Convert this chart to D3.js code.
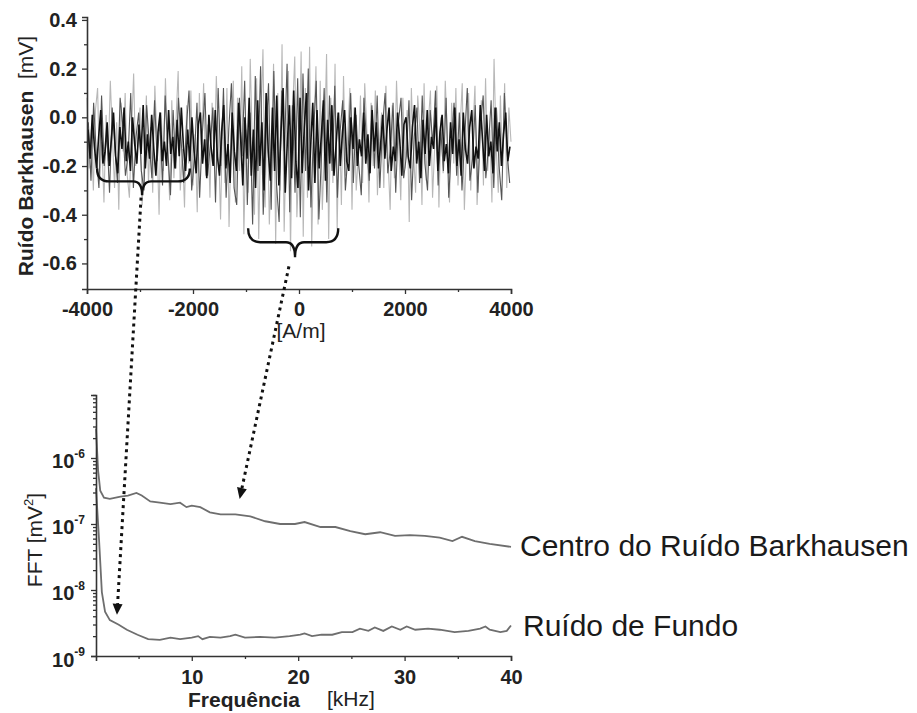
<!DOCTYPE html>
<html>
<head>
<meta charset="utf-8">
<script src="https://cdn.jsdelivr.net/npm/d3@7"></script>
<style>
  body { margin: 0; background: #fff; }
  svg { display: block; font-family: "Liberation Sans", Arial, sans-serif; }
</style>
</head>
<body>
<svg id="chart" width="917" height="713"></svg>
<script>
// --- top panel: Barkhausen noise vs field (A/m) ---
// light outer trace, every 40 A/m from -4000
const lightStart = -4000, lightStep = 40;
const lightTrace = [
  0.08,-0.21,-0.05,-0.30,0.03,0.12,-0.26,-0.10,-0.35,0.01,
  -0.18,0.15,-0.08,-0.29,-0.02,-0.38,0.06,-0.14,0.10,-0.24,
  -0.33,-0.06,0.18,-0.20,-0.11,0.04,-0.36,-0.15,0.09,-0.27,
  -0.04,-0.31,0.13,-0.09,-0.40,0.02,-0.22,0.16,-0.12,-0.34,
  0.07,-0.25,-0.01,0.19,-0.30,-0.13,-0.37,0.05,-0.19,0.11,
  -0.28,-0.07,-0.39,0.10,-0.16,0.14,-0.24,-0.03,-0.33,0.06,
  -0.20,0.17,-0.10,-0.42,0.02,-0.27,0.12,-0.45,-0.08,0.15,
  -0.35,0.08,-0.22,0.21,-0.48,-0.05,-0.31,0.24,-0.12,-0.40,
  0.16,-0.50,-0.02,0.28,-0.37,0.06,-0.44,-0.15,0.22,-0.52,
  0.10,-0.30,0.30,-0.47,-0.08,0.19,-0.55,0.03,0.25,-0.41,
  -0.18,0.27,-0.49,0.12,-0.33,0.29,-0.53,-0.06,0.21,-0.44,
  0.15,-0.38,-0.12,0.26,-0.50,0.08,-0.27,0.22,-0.46,0.02,
  -0.36,0.17,-0.24,-0.07,0.12,-0.38,0.04,-0.30,-0.15,0.09,
  -0.27,0.14,-0.05,-0.35,0.06,-0.20,0.11,-0.32,-0.09,0.02,
  -0.29,0.13,-0.17,-0.38,0.05,-0.25,0.15,-0.11,-0.34,0.08,
  -0.21,0.03,-0.43,0.12,-0.14,-0.31,0.09,-0.05,-0.36,0.14,
  -0.26,-0.02,0.11,-0.33,-0.12,0.13,-0.37,0.00,-0.23,0.15,
  -0.08,-0.35,0.06,-0.19,0.12,-0.28,-0.04,0.14,-0.38,-0.13,
  0.10,-0.30,-0.06,0.13,-0.36,-0.16,0.07,-0.28,0.16,-0.22,
  -0.05,-0.35,0.24,-0.12,-0.31,0.09,-0.20,0.14,-0.29,0.04,
  -0.10
];
// mid-grey trace, every 50 A/m from -3975
const midStart = -3975, midStep = 50;
const midTrace = [
  -0.02,-0.26,0.06,-0.15,-0.29,0.09,-0.20,-0.06,-0.31,0.04,
  -0.12,-0.27,0.08,-0.03,-0.24,-0.16,0.10,-0.29,-0.08,0.02,
  -0.22,-0.30,0.05,-0.11,-0.25,0.07,-0.18,-0.01,-0.28,0.09,
  -0.14,-0.32,0.03,-0.21,0.08,-0.09,-0.27,-0.04,0.11,-0.30,
  -0.17,0.06,-0.33,-0.07,0.10,-0.24,-0.12,0.04,-0.35,0.12,
  -0.20,0.12,-0.33,-0.05,0.14,-0.29,-0.36,0.08,-0.16,0.15,
  -0.36,0.02,-0.44,0.17,-0.22,0.21,-0.40,-0.09,0.14,-0.38,
  0.19,-0.27,-0.43,0.11,-0.14,0.22,-0.39,0.05,-0.31,0.16,
  -0.41,0.18,-0.22,0.20,-0.37,-0.06,0.15,-0.42,-0.15,0.12,
  -0.35,0.09,-0.22,0.13,-0.33,-0.06,0.07,-0.30,-0.15,0.10,
  -0.27,0.01,-0.19,-0.32,0.08,-0.10,-0.26,0.05,-0.21,0.09,
  -0.29,-0.04,0.10,-0.23,-0.13,0.06,-0.31,-0.02,0.08,-0.25,
  -0.16,0.07,-0.34,-0.08,0.04,-0.27,0.09,-0.19,-0.30,0.03,
  -0.11,0.11,-0.28,-0.05,-0.22,0.08,-0.33,-0.12,0.06,-0.24,
  0.02,-0.30,-0.09,0.12,-0.26,-0.17,0.05,-0.31,-0.03,0.09,
  -0.25,-0.12,0.07,-0.29,0.04,-0.20,-0.34,0.10,-0.14,-0.27
];
// dark core trace, every 40 A/m from -3980
const darkStart = -3980, darkStep = 40;
const darkTrace = [
  -0.05,-0.17,0.01,-0.12,-0.21,-0.08,0.03,-0.19,-0.14,-0.02,
  -0.20,-0.09,0.02,-0.16,-0.23,-0.04,-0.13,0.04,-0.18,-0.10,
  -0.22,0.00,-0.11,-0.19,-0.03,-0.15,0.05,-0.21,-0.07,-0.17,
  0.01,-0.13,-0.24,-0.06,0.02,-0.18,-0.10,-0.20,0.03,-0.15,
  -0.08,-0.21,-0.01,-0.16,0.04,-0.12,-0.22,-0.05,-0.18,0.00,
  -0.14,-0.23,-0.03,0.02,-0.19,-0.09,-0.25,0.01,-0.12,-0.20,
  0.03,-0.16,-0.24,-0.06,0.05,-0.21,-0.11,-0.27,0.02,-0.14,
  -0.22,0.06,-0.09,-0.28,0.00,-0.17,0.08,-0.24,-0.05,-0.29,
  0.07,-0.20,-0.02,-0.30,0.10,-0.14,-0.26,0.04,-0.22,0.09,
  -0.28,-0.06,0.12,-0.31,-0.10,0.05,-0.25,0.11,-0.18,-0.29,
  0.08,-0.23,-0.04,0.10,-0.30,-0.12,0.06,-0.27,0.03,-0.21,
  -0.08,0.07,-0.26,-0.01,-0.19,0.05,-0.24,-0.11,0.02,-0.20,
  -0.06,0.03,-0.18,-0.22,0.00,-0.13,0.04,-0.20,-0.09,-0.16,
  0.02,-0.19,-0.07,-0.23,0.03,-0.14,-0.02,-0.21,-0.11,0.01,
  -0.17,-0.05,0.04,-0.22,-0.12,-0.18,0.02,-0.09,-0.24,-0.03,
  0.00,-0.16,-0.21,-0.04,0.05,-0.19,-0.10,-0.25,-0.01,-0.15,
  0.03,-0.20,-0.08,-0.13,0.04,-0.22,-0.06,0.01,-0.18,-0.11,
  -0.23,-0.02,-0.15,0.04,-0.20,-0.09,-0.24,0.02,-0.13,-0.19,
  -0.04,0.03,-0.21,-0.12,-0.17,0.05,-0.08,-0.22,0.01,-0.16,
  -0.10,-0.23,0.04,-0.14,-0.02,-0.20,-0.07,0.02,-0.18,-0.12
];
const fieldTicks = [-4000, -2000, 0, 2000, 4000];
const fieldMinor = [-3000, -1000, 1000, 3000];
const noiseTicks = [-0.6, -0.4, -0.2, 0.0, 0.2, 0.4];
const noiseMinor = [-0.5, -0.3, -0.1, 0.1, 0.3];

// --- bottom panel: FFT spectra ---
const centroFreq = [1.0,1.2,1.4,1.75,2.3,3.3,4.0,4.8,5.3,6.1,7.0,8.0,8.9,9.5,10,10.8,11.7,12.7,14.1,15.5,16.9,18.3,19.7,20.6,22.1,23.5,24.9,26.3,27.7,29.1,30.5,31.9,33.3,34.5,35.4,36.6,38.0,40.0];
const centroFFT = [2.8e-6,6.4e-7,3.2e-7,2.5e-7,2.4e-7,2.6e-7,2.7e-7,2.95e-7,2.7e-7,2.2e-7,2.1e-7,2.0e-7,2.1e-7,1.8e-7,1.9e-7,1.8e-7,1.5e-7,1.4e-7,1.4e-7,1.3e-7,1.1e-7,1.0e-7,1.0e-7,1.07e-7,9e-8,9e-8,7.8e-8,7.0e-8,7.5e-8,6.6e-8,6.8e-8,6.6e-8,6.2e-8,5.5e-8,6.4e-8,5.5e-8,5.0e-8,4.5e-8];
const fundoFreq = [1.0,1.3,1.55,1.85,2.3,3.1,3.9,4.9,5.9,7.0,8.0,8.9,10,10.6,11.0,11.7,12.7,13.6,14.1,15.0,16.4,17.8,19.2,20.2,20.6,21.3,22.2,23.2,24.1,25.1,25.8,26.6,27.2,28.0,28.8,29.6,30.2,31.0,32.2,33.3,34.7,36.0,37.1,37.6,38.0,39.0,39.6,40.0];
const fundoFFT = [3.5e-7,5.3e-8,9.3e-9,4.7e-9,3.5e-9,3.0e-9,2.5e-9,2.1e-9,1.8e-9,1.75e-9,1.9e-9,1.8e-9,1.9e-9,2.0e-9,1.8e-9,1.95e-9,1.9e-9,2.0e-9,2.1e-9,1.9e-9,1.95e-9,1.9e-9,2.0e-9,2.1e-9,2.2e-9,2.0e-9,2.1e-9,2.1e-9,2.3e-9,2.3e-9,2.6e-9,2.4e-9,2.7e-9,2.4e-9,2.8e-9,2.5e-9,2.8e-9,2.5e-9,2.6e-9,2.5e-9,2.3e-9,2.4e-9,2.6e-9,2.8e-9,2.5e-9,2.3e-9,2.4e-9,2.9e-9];
const freqTicks = [10, 20, 30, 40];
const freqMinor = [5, 15, 25, 35];
const seriesNames = ["Centro do Ruído Barkhausen", "Ruído de Fundo"];

// annotations: braces in top-panel units, arrows from top panel to bottom panel
const braces = [
  { x0: -3810, x1: -2060, xm: -2960, yEnd: -0.21, yBar: -0.263, yTip: -0.32 },
  { x0: -960, x1: 740, xm: -75, yEnd: -0.456, yBar: -0.513, yTip: -0.575 }
];
const arrows = [
  { field: -2980, noise: -0.33, freq: 2.97, fft: 4.2e-9 },
  { field: -190, noise: -0.612, freq: 14.5, fft: 2.4e-7 }
];

const svg = d3.select("#chart");
const axisColor = "#333";

// ---------- top panel ----------
const xTop = d3.scaleLinear().domain([-4000, 4000]).range([87, 511]);
const yTop = d3.scaleLinear().domain([-0.705, 0.412]).range([289, 17]);

const topPanel = svg.append("g");
const noiseLine = d3.line().x(d => xTop(d[0])).y(d => yTop(d[1]));

const traces = [
  { start: lightStart, step: lightStep, values: lightTrace, color: "#b8b8b8", width: 1.1 },
  { start: midStart, step: midStep, values: midTrace, color: "#555", width: 1.1 },
  { start: darkStart, step: darkStep, values: darkTrace, color: "#111", width: 1.6 }
];
traces.forEach(t => {
  const pts = t.values.map((v, i) => [t.start + i * t.step, v]);
  topPanel.append("path").attr("d", noiseLine(pts))
    .attr("fill", "none").attr("stroke", t.color).attr("stroke-width", t.width);
});

function styleAxis(g) {
  g.select(".domain").attr("stroke", axisColor).attr("stroke-width", 1.6);
  g.selectAll(".tick line").attr("stroke", axisColor).attr("stroke-width", 1.3);
  g.selectAll(".tick text").attr("fill", "#222").attr("font-size", 20).attr("font-weight", "bold")
    .attr("font-family", "Liberation Sans, Arial, sans-serif");
}

const xAxisTop = topPanel.append("g").attr("transform", `translate(0,289)`)
  .call(d3.axisBottom(xTop).tickValues(fieldTicks.concat(fieldMinor)).tickSizeOuter(0)
    .tickSize(5).tickPadding(8).tickFormat(d => fieldTicks.includes(d) ? String(d) : ""));
xAxisTop.selectAll(".tick").filter(d => !fieldTicks.includes(d)).select("line").attr("y2", 3);
styleAxis(xAxisTop);

const yAxisTop = topPanel.append("g").attr("transform", `translate(87,0)`)
  .call(d3.axisLeft(yTop).tickValues(noiseTicks.concat(noiseMinor)).tickSizeOuter(0)
    .tickSize(5).tickPadding(5).tickFormat(d => noiseTicks.includes(d) ? d.toFixed(1) : ""));
yAxisTop.selectAll(".tick").filter(d => !noiseTicks.includes(d)).select("line").attr("x2", -3);
styleAxis(yAxisTop);

const yTitle = topPanel.append("text").attr("transform", "translate(33,156) rotate(-90)")
  .attr("text-anchor", "middle").attr("font-size", 21).attr("fill", "#222");
yTitle.append("tspan").attr("font-weight", "bold").text("Ruído Barkhausen");
yTitle.append("tspan").attr("xml:space", "preserve").text("  [mV]");

topPanel.append("text").attr("x", 301).attr("y", 338).attr("text-anchor", "middle")
  .attr("font-size", 21).attr("fill", "#222").text("[A/m]");

// ---------- bottom panel ----------
const xBot = d3.scaleLinear().domain([1, 40]).range([96, 511]);
const yBot = d3.scaleLog().domain([1e-9, 9e-6]).range([656, 395]);
const bot = svg.append("g");

const specLine = d3.line().x(d => xBot(d[0])).y(d => yBot(d[1]));
bot.append("path").attr("d", specLine(d3.zip(centroFreq, centroFFT)))
  .attr("fill", "none").attr("stroke", "#6e6e6e").attr("stroke-width", 1.8);
bot.append("path").attr("d", specLine(d3.zip(fundoFreq, fundoFFT)))
  .attr("fill", "none").attr("stroke", "#6e6e6e").attr("stroke-width", 1.8);

const xAxisBot = bot.append("g").attr("transform", `translate(0,656)`)
  .call(d3.axisBottom(xBot).tickValues(freqTicks.concat(freqMinor)).tickSizeOuter(0)
    .tickSize(5).tickPadding(9).tickFormat(d => freqTicks.includes(d) ? String(d) : ""));
xAxisBot.selectAll(".tick").filter(d => !freqTicks.includes(d)).select("line").attr("y2", 3);
styleAxis(xAxisBot);

const isDecade = d => Math.abs(Math.log10(d) - Math.round(Math.log10(d))) < 1e-6;
const yAxisBot = bot.append("g").attr("transform", `translate(96,0)`)
  .call(d3.axisLeft(yBot).ticks(40).tickSizeOuter(0).tickSize(5).tickPadding(6)
    .tickFormat(d => isDecade(d) ? "10" : ""));
yAxisBot.selectAll(".tick").filter(d => !isDecade(d)).select("line").attr("x2", -3);
styleAxis(yAxisBot);
yAxisBot.selectAll(".tick").filter(d => isDecade(d)).select("text")
  .attr("dy", "0.5em")
  .append("tspan").attr("font-size", 12).attr("dy", "-0.9em")
  .text(d => String(Math.round(Math.log10(d))));

const fftTitle = bot.append("text").attr("transform", "translate(42,540) rotate(-90)")
  .attr("text-anchor", "middle").attr("font-size", 21).attr("fill", "#222");
fftTitle.append("tspan").text("FFT [mV");
fftTitle.append("tspan").attr("font-size", 13).attr("dy", -9).text("2");
fftTitle.append("tspan").attr("dy", 9).text("]");

bot.append("text").attr("x", 188).attr("y", 707).attr("font-size", 21)
  .attr("font-weight", "bold").attr("fill", "#222").text("Frequência");
bot.append("text").attr("x", 327).attr("y", 706).attr("font-size", 21)
  .attr("fill", "#222").text("[kHz]");

// series labels at the right end of each spectrum
bot.append("text").attr("x", 520).attr("y", 556).attr("font-size", 30)
  .attr("fill", "#1a1a1a").text(seriesNames[0]);
bot.append("text").attr("x", 523).attr("y", 636).attr("font-size", 30)
  .attr("fill", "#1a1a1a").text(seriesNames[1]);

// ---------- annotations ----------
const ann = svg.append("g");
braces.forEach(b => {
  const xa = xTop(b.x0), xb = xTop(b.x1), xm = xTop(b.xm);
  const ye = yTop(b.yEnd), yb = yTop(b.yBar), yt = yTop(b.yTip);
  const r = 12;
  const p = d3.path();
  p.moveTo(xa, ye);
  p.quadraticCurveTo(xa, yb, xa + r, yb);
  p.lineTo(xm - 9, yb);
  p.quadraticCurveTo(xm, yb, xm, yt);
  p.quadraticCurveTo(xm, yb, xm + 9, yb);
  p.lineTo(xb - r, yb);
  p.quadraticCurveTo(xb, yb, xb, ye);
  ann.append("path").attr("d", p.toString()).attr("fill", "none")
    .attr("stroke", "#111").attr("stroke-width", 2.4);
});

arrows.forEach(a => {
  const x0 = xTop(a.field), y0 = yTop(a.noise);
  const x1 = xBot(a.freq), y1 = yBot(a.fft);
  const ang = Math.atan2(y1 - y0, x1 - x0);
  const headLen = 11, headW = 5;
  const bx = x1 - headLen * Math.cos(ang), by = y1 - headLen * Math.sin(ang);
  ann.append("line").attr("x1", x0).attr("y1", y0).attr("x2", bx).attr("y2", by)
    .attr("stroke", "#111").attr("stroke-width", 3).attr("stroke-dasharray", "3,4");
  const nx = -Math.sin(ang), ny = Math.cos(ang);
  ann.append("path")
    .attr("d", `M${x1},${y1}L${bx + nx * headW},${by + ny * headW}L${bx - nx * headW},${by - ny * headW}Z`)
    .attr("fill", "#111");
});
</script>
</body>
</html>
